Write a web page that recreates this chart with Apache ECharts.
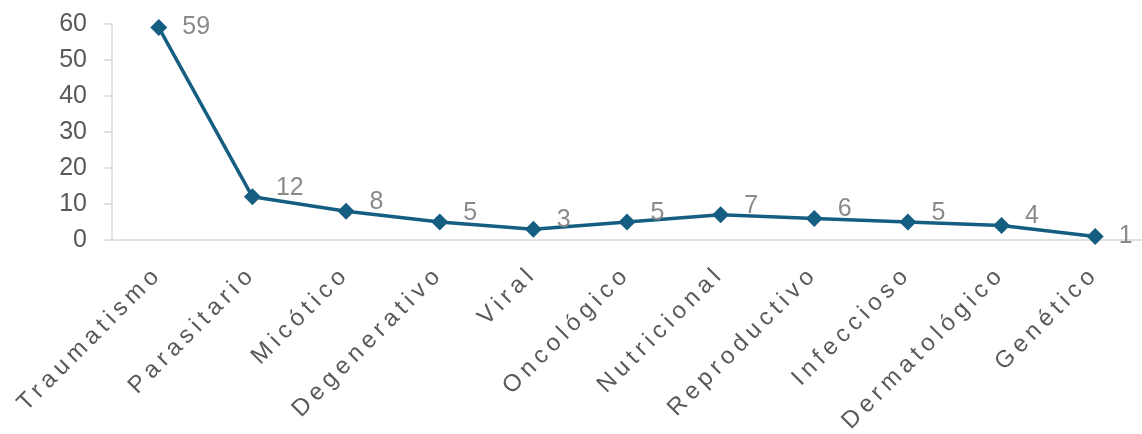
<!DOCTYPE html>
<html><head><meta charset="utf-8">
<script src="https://cdn.jsdelivr.net/npm/echarts@6/dist/echarts.min.js"></script>
<style>html,body{margin:0;padding:0;background:#fff}#c{width:1142px;height:434px}</style>
</head><body><div id="c"></div>
<script>
const categories = ['Traumatismo','Parasitario','Micótico','Degenerativo','Viral','Oncológico','Nutricional','Reproductivo','Infeccioso','Dermatológico','Genético'];
const values = [59, 12, 8, 5, 3, 5, 7, 6, 5, 4, 1];
const yTicks = [0, 10, 20, 30, 40, 50, 60];

// letter spacing only for the category labels (identified by their font family)
const origFill = CanvasRenderingContext2D.prototype.fillText;
CanvasRenderingContext2D.prototype.fillText = function (t, x, y, w) {
  const spaced = this.font && this.font.indexOf('Liberation') >= 0 && 'letterSpacing' in this;
  this.letterSpacing = spaced ? '5px' : '0px';
  const r = w === undefined ? origFill.call(this, t, x, y) : origFill.call(this, t, x, y, w);
  if (spaced) this.letterSpacing = '0px';
  return r;
};

const chart = echarts.init(document.getElementById('c'), null, {renderer: 'canvas'});
const last = values.length - 1;
chart.setOption({
  animation: false,
  grid: {left: 112, right: -4, top: 24, bottom: 194},
  xAxis: {
    type: 'category', data: categories, boundaryGap: true,
    axisLine: {lineStyle: {color: '#d9d9d9', width: 1.5}},
    axisTick: {show: false},
    axisLabel: {interval: 0, rotate: 45, margin: 30, color: '#595959', fontSize: 24,
      fontFamily: "Liberation Sans"}
  },
  yAxis: {
    type: 'value', min: yTicks[0], max: yTicks[yTicks.length - 1], interval: 10,
    splitLine: {show: false},
    axisLine: {show: true, lineStyle: {color: '#d9d9d9', width: 1.5}},
    axisTick: {show: true, length: 8, lineStyle: {color: '#d9d9d9', width: 1.5}},
    axisLabel: {margin: 25, color: '#595959', fontSize: 25, fontFamily: "Arial"}
  },
  series: [{
    type: 'line', data: values,
    lineStyle: {color: '#155e82', width: 3.5},
    itemStyle: {color: '#155e82'},
    symbol: 'diamond', symbolSize: 17,
    label: {show: true, position: 'right', distance: 15, color: '#8a8a8a', fontSize: 25,
      fontFamily: "Arial",
      formatter: p => String(p.value)},
    labelLayout: p => (p.dataIndex === 0 || p.dataIndex === last) ? {} : {dy: -9}
  }]
});
</script></body></html>
